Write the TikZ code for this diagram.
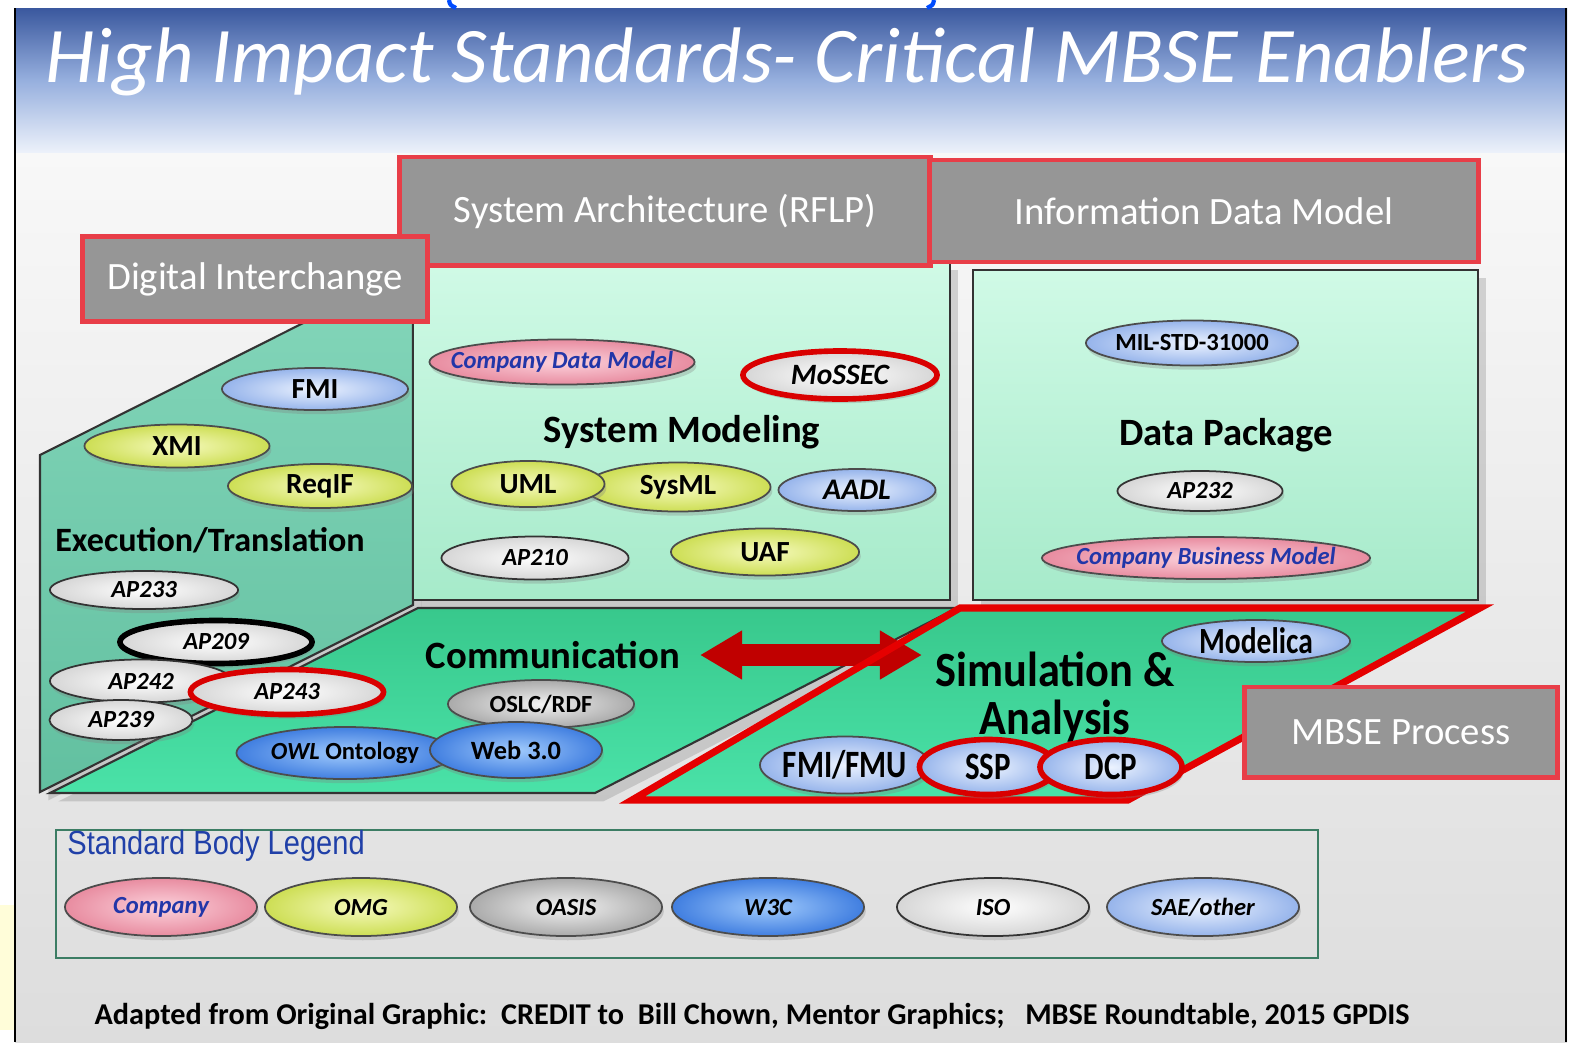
\documentclass[tikz,border=0pt]{standalone}
\usepackage{fontspec}
\setmainfont{Carlito}
\newfontfamily\arialfont{Liberation Sans}
\usetikzlibrary{shapes.geometric,shadows,arrows.meta}

% colours of the slide
\definecolor{titletop}{RGB}{58,88,158}
\definecolor{titlemid}{RGB}{150,175,222}
\definecolor{titlebot}{RGB}{236,241,250}
\definecolor{bodytop}{RGB}{248,248,248}
\definecolor{bodybot}{RGB}{221,221,221}
\definecolor{hdrgray}{RGB}{150,150,150}
\definecolor{hdrred}{RGB}{232,62,72}
\definecolor{arrowred}{RGB}{192,0,0}
\definecolor{tealA}{RGB}{132,214,186}
\definecolor{tealB}{RGB}{98,192,160}
\definecolor{mintA}{RGB}{208,250,230}
\definecolor{mintB}{RGB}{166,234,202}
\definecolor{bandA}{RGB}{56,200,140}
\definecolor{bandB}{RGB}{74,226,168}
\definecolor{compblue}{RGB}{34,54,168}
\definecolor{legblue}{RGB}{32,64,168}
\definecolor{legframe}{RGB}{60,125,100}
% colours of the standard bodies
\definecolor{pinkIn}{RGB}{252,210,220}
\definecolor{pinkOut}{RGB}{232,140,160}
\definecolor{omgIn}{RGB}{246,250,190}
\definecolor{omgOut}{RGB}{205,222,84}
\definecolor{oasisIn}{RGB}{242,242,242}
\definecolor{oasisOut}{RGB}{170,170,170}
\definecolor{wthreeIn}{RGB}{160,202,252}
\definecolor{wthreeOut}{RGB}{64,126,224}
\definecolor{isoOut}{RGB}{214,214,214}
\definecolor{saeIn}{RGB}{236,243,255}
\definecolor{saeOut}{RGB}{150,180,235}

\newcommand{\squeeze}[2][0.8]{\scalebox{#1}[1]{#2}}

\tikzset{
	hdr/.style={draw=hdrred, line width=1.4pt, fill=hdrgray, text=white, font=\fontsize{11}{13}\selectfont},
	panel/.style={draw=black!80, line width=0.6pt},
	lbl/.style={font=\bfseries\fontsize{11}{13}\selectfont},
	sz/.style 2 args={minimum width=#1cm, minimum height=#2cm},
	std/.style={ellipse, inner sep=0pt, draw=black!70, line width=0.5pt, shade,
		drop shadow={opacity=0.3, shadow xshift=0.5pt, shadow yshift=-1.2pt},
		font=\bfseries\fontsize{8.3}{10}\selectfont,
		execute at begin node={\hbox to 0pt\bgroup\hss}, execute at end node={\hss\egroup}},
	company/.style={std, inner color=pinkIn, outer color=pinkOut, text=compblue,
		font=\bfseries\itshape\fontsize{7}{8}\selectfont},
	omg/.style={std, inner color=omgIn, outer color=omgOut},
	oasis/.style={std, inner color=oasisIn, outer color=oasisOut},
	wthree/.style={std, inner color=wthreeIn, outer color=wthreeOut},
	iso/.style={std, inner color=white, outer color=isoOut, draw=black!80},
	sae/.style={std, inner color=saeIn, outer color=saeOut},
	apfont/.style={font=\bfseries\itshape\fontsize{7}{8}\selectfont},
	red ring/.style={draw=red!85!black, line width=1.6pt},
	black ring/.style={draw=black, line width=1.6pt},
	bigarrow/.style={draw=arrowred, line width=0.22cm,
		{Triangle[length=0.42cm, width=0.46cm]}-{Triangle[length=0.42cm, width=0.46cm]}},
}

\begin{document}
\begin{tikzpicture}[x=0.01cm, y=-0.01cm]
	\useasboundingbox (0,0) rectangle (1582,1042);
	% slide background and title band
	\fill[white] (0,0) rectangle (1582,1042);
	\fill[yellow!15] (0,905) rectangle (15,1030);
	\shade[top color=bodytop, bottom color=bodybot] (15,150) rectangle (1567,1042);
	\shade[top color=titletop, bottom color=titlebot, middle color=titlemid] (15,8) rectangle (1567,152);
	\draw[black, line width=0.7pt] (15,8) -- (15,1042) (1566,8) -- (1566,1042);
	% bits of the slide above
	\draw[blue!70!cyan, line width=1.2pt] (449,0) .. controls (450,5) .. (456,8);
	\draw[blue!70!cyan, line width=1.2pt] (934,0) .. controls (933,5) .. (927,8);
	\node[anchor=base, text=white, font=\itshape\fontsize{22.4}{26}\selectfont] (title) at (787,82)
		{High Impact Standards- Critical MBSE Enablers};

	% the panels
	\draw[panel, top color=tealA, bottom color=tealB, drop shadow={opacity=0.3}]
		(40,455) -- (413,268) -- (413,605) -- (40,792) -- cycle;
	\draw[panel, top color=mintA, bottom color=mintB, drop shadow={opacity=0.3}]
		(413,262) rectangle (950,600);
	\draw[panel, top color=mintA, bottom color=mintB, drop shadow={opacity=0.3}]
		(973,270) rectangle (1478,600);
	\draw[panel, top color=bandA, bottom color=bandB, drop shadow={opacity=0.3}]
		(418,608) -- (957,608) -- (595,793) -- (50,793) -- cycle;
	\fill[top color=bandA, bottom color=bandB] (960,608) -- (1480,608) -- (1128,800) -- (632,800) -- cycle;

	% headers
	\node[hdr, minimum width=5.3cm, minimum height=1.08cm] (sysarch) at (665,211) {System Architecture (RFLP)};
	\node[hdr, minimum width=5.48cm, minimum height=1.02cm] (infodm) at (1204,211) {Information Data Model};
	\node[hdr, minimum width=3.45cm, minimum height=0.85cm] (digint) at (255,279) {Digital Interchange};

	% Execution/Translation
	\node[sae, sz={1.86}{0.42}] (fmi) at (315,389) {FMI};
	\node[omg, sz={1.85}{0.43}] (xmi) at (177,446) {XMI};
	\node[omg, sz={1.84}{0.44}] (reqif) at (320,486) {ReqIF};
	\node[lbl, font=\bfseries\fontsize{9.7}{11}\selectfont] (exec) at (210,540) {Execution/Translation};
	\node[iso, apfont, sz={1.88}{0.38}] (ap233) at (144,590) {AP233};
	\node[iso, apfont, black ring, sz={1.92}{0.43}] (ap209) at (216,642) {AP209};
	\node[iso, apfont, sz={1.82}{0.43}] (ap242) at (141,681) {AP242};
	\node[iso, apfont, sz={1.43}{0.40}] (ap239) at (121,720) {AP239};
	\node[iso, apfont, red ring, sz={1.93}{0.45}] (ap243) at (287,692) {AP243};

	% System Modeling
	\node[company, sz={2.65}{0.45}] (cdm) at (562,362) {Company Data Model};
	\node[iso, red ring, sz={1.94}{0.48}, font=\bfseries\itshape\fontsize{8.4}{10}\selectfont] (mossec) at (840,375) {MoSSEC};
	\node[lbl] (sysmod) at (682,432) {System Modeling};
	\node[omg, sz={1.85}{0.49}] (sysml) at (678,487) {SysML};
	\node[omg, sz={1.53}{0.46}] (uml) at (528,484) {UML};
	\node[sae, sz={1.57}{0.42}, font=\bfseries\itshape\fontsize{8.5}{10}\selectfont] (aadl) at (857,490) {AADL};
	\node[iso, apfont, sz={1.87}{0.43}] (ap210) at (535,558) {AP210};
	\node[omg, sz={1.88}{0.47}] (uaf) at (765,552) {UAF};

	% Data Package
	\node[sae, sz={2.12}{0.45}, font=\bfseries\fontsize{7}{8}\selectfont] (milstd) at (1192,343) {MIL-STD-31000};
	\node[lbl] (datapkg) at (1226,435) {Data Package};
	\node[iso, apfont, sz={1.65}{0.40}] (ap232) at (1200,491) {AP232};
	\node[company, sz={3.28}{0.42}] (cbm) at (1206,558) {Company Business Model};

	% Communication
	\node[lbl] (comm) at (553,655) {Communication};
	\node[oasis, sz={1.86}{0.48}, font=\bfseries\fontsize{7}{8}\selectfont] (oslc) at (541,704) {OSLC/RDF};
	\node[wthree, sz={2.17}{0.52}, font=\bfseries\fontsize{7}{8}\selectfont] (owl) at (345,753) {\textit{OWL} Ontology};
	\node[wthree, sz={1.72}{0.56}, font=\bfseries\fontsize{7.5}{9}\selectfont] (web) at (516,750) {Web 3.0};

	% Communication <-> Simulation
	\coordinate (arrL) at (700,655);
	\coordinate (arrR) at (922,655);
	\draw[bigarrow] (arrL) -- (arrR);
	\draw[draw=red!90!black, line width=2pt] (960,608) -- (1480,608) -- (1128,800) -- (632,800) -- cycle;

	% Simulation & Analysis
	\node[sae, sz={1.88}{0.42}, font=\bfseries\fontsize{10.5}{12}\selectfont] (modelica) at (1256,641) {\squeeze{Modelica}};
	\node[lbl, font=\bfseries\fontsize{14}{13.4}\selectfont, align=center] (simana) at (1055,697)
		{\squeeze[0.9]{Simulation \&}\\\squeeze[0.9]{Analysis}};
	\node[sae, sz={1.70}{0.57}, font=\bfseries\fontsize{11}{12}\selectfont] (fmu) at (845,765) {\squeeze{FMI/FMU}};
	\node[sae, red ring, sz={1.37}{0.55}, font=\bfseries\fontsize{11}{12}\selectfont] (ssp) at (988,767) {\squeeze{SSP}};
	\node[sae, red ring, sz={1.42}{0.55}, font=\bfseries\fontsize{11}{12}\selectfont] (dcp) at (1111,767) {\squeeze{DCP}};
	\node[hdr, minimum width=3.13cm, minimum height=0.9cm] (mbse) at (1401,732) {MBSE Process};

	% legend of the standard bodies
	\node[draw=legframe, line width=0.6pt, minimum width=12.61cm, minimum height=1.28cm] (legend) at (687,894) {};
	\node[anchor=west, text=legblue, font=\arialfont\fontsize{9.5}{11}\selectfont] (legtitle) at (55,846)
		{\squeeze[0.87]{Standard Body Legend}};
	\foreach \x/\cls/\txt in {161/company/Company, 361/omg/OMG, 566/oasis/OASIS,
		768/wthree/W3C, 993/iso/ISO, 1203/sae/{SAE/other}} {
		\node[\cls, apfont, sz={1.92}{0.58}] (leg-\cls) at (\x,907) {\txt};
	}

	\node[font=\bfseries\fontsize{8.6}{10}\selectfont] (credit) at (752,1016)
		{Adapted from Original Graphic:\ \ CREDIT to\ \ Bill Chown, Mentor Graphics;\ \ \ MBSE Roundtable, 2015 GPDIS};
\end{tikzpicture}
\end{document}
